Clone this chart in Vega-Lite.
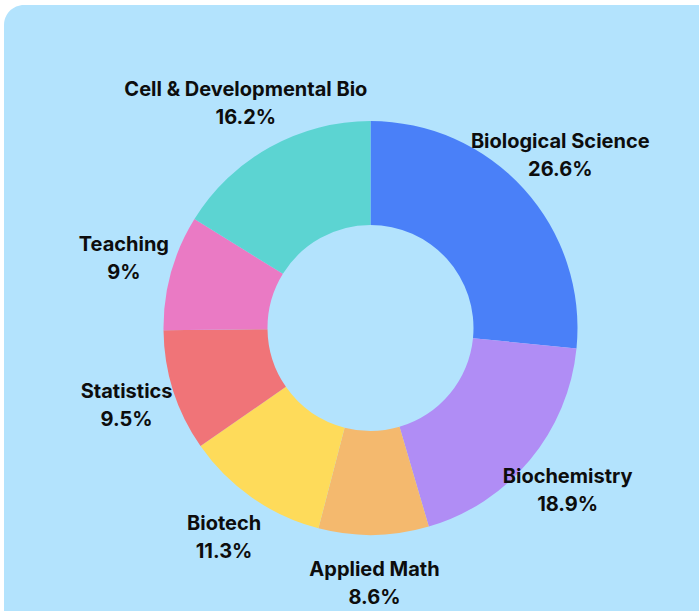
{
  "$schema": "https://vega.github.io/schema/vega-lite/v6.json",
  "width": 699,
  "height": 611,
  "autosize": {"type": "fit", "contains": "padding"},
  "padding": {"left": 4, "top": 5, "right": -38, "bottom": -40},
  "background": "#ffffff",
  "view": {"fill": "#b3e3fd", "stroke": null, "cornerRadius": 20},
  "data": {
    "values": [
      {"field": "Biological Science", "pct": 26.6, "label": "26.6%", "rank": 1},
      {"field": "Biochemistry", "pct": 18.9, "label": "18.9%", "rank": 2},
      {"field": "Applied Math", "pct": 8.6, "label": "8.6%", "rank": 3},
      {"field": "Biotech", "pct": 11.3, "label": "11.3%", "rank": 4},
      {"field": "Statistics", "pct": 9.5, "label": "9.5%", "rank": 5},
      {"field": "Teaching", "pct": 9.0, "label": "9%", "rank": 6},
      {"field": "Cell & Developmental Bio", "pct": 16.2, "label": "16.2%", "rank": 7}
    ]
  },
  "encoding": {
    "theta": {"field": "pct", "type": "quantitative", "stack": true},
    "order": {"field": "rank", "type": "quantitative"},
    "color": {
      "field": "field",
      "type": "nominal",
      "sort": null,
      "scale": {
        "domain": ["Biological Science", "Biochemistry", "Applied Math", "Biotech", "Statistics", "Teaching", "Cell & Developmental Bio"],
        "range": ["#4a80f8", "#b08df5", "#f4b96e", "#fedb5a", "#f07478", "#ea7ac4", "#5cd4d2"]
      },
      "legend": null
    }
  },
  "layer": [
    {"mark": {"type": "arc", "innerRadius": 103, "outerRadius": 207}},
    {
      "mark": {"type": "text", "radius": 256, "dy": -14, "font": "Inter", "fontWeight": "bold", "fontSize": 20, "align": "center", "baseline": "middle"},
      "encoding": {"text": {"field": "field"}, "color": {"value": "#0d0d0d"}}
    },
    {
      "mark": {"type": "text", "radius": 256, "dy": 14, "font": "Inter", "fontWeight": "bold", "fontSize": 20, "align": "center", "baseline": "middle"},
      "encoding": {"text": {"field": "label"}, "color": {"value": "#0d0d0d"}}
    }
  ]
}
